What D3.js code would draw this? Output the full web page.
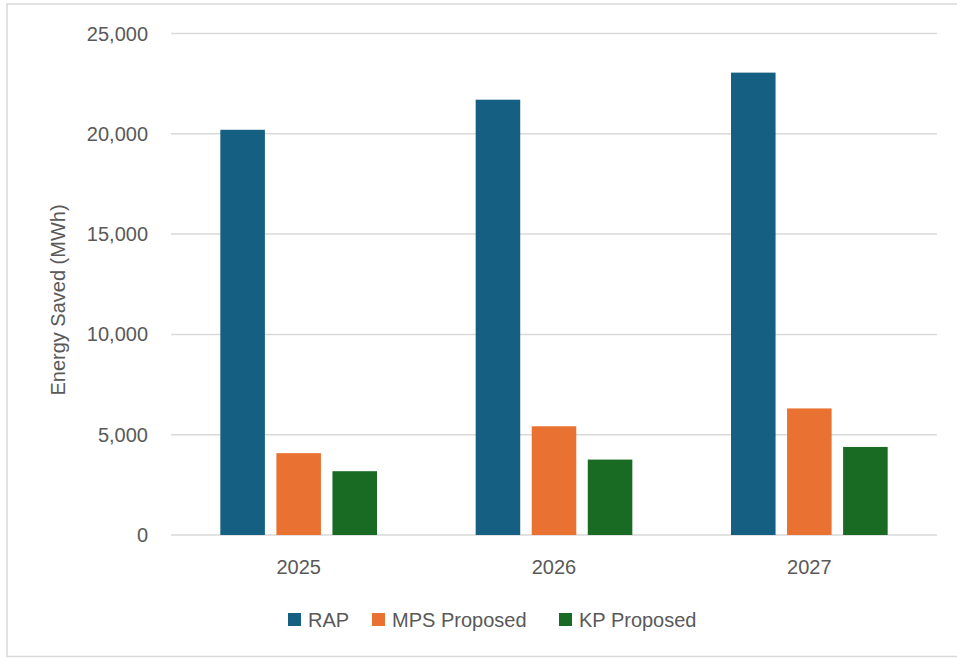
<!DOCTYPE html>
<html>
<head>
<meta charset="utf-8">
<script src="https://cdn.jsdelivr.net/npm/d3@7"></script>
<style>
  body { margin: 0; background: #fff; }
  text { font-family: "Liberation Sans", Arial, sans-serif; fill: #595959; }
</style>
</head>
<body>
<script>
var width = 957, height = 658;

// data
var years = ["2025", "2026", "2027"];
var seriesNames = ["RAP", "MPS Proposed", "KP Proposed"];
var rap = [20200, 21700, 23050];
var mps = [4080, 5420, 6310];
var kp = [3180, 3760, 4390];
var yTicks = [0, 5000, 10000, 15000, 20000, 25000];
var colors = ["#156082", "#E97132", "#196B24"];

var values = [rap, mps, kp];

var margin = {left: 171, right: 20, top: 33.5, bottom: 123};

var svg = d3.select("body").append("svg")
    .attr("width", width)
    .attr("height", height);

// chart frame
svg.append("rect")
    .attr("x", 7).attr("y", 4)
    .attr("width", width + 10).attr("height", 652.5)
    .style("fill", "white")
    .style("stroke", "#d9d9d9")
    .style("stroke-width", 1.5);

var x = d3.scaleBand()
    .domain(years)
    .range([margin.left, width - margin.right]);

var xInner = d3.scaleBand()
    .domain(seriesNames)
    .range([0, x.bandwidth()])
    .paddingInner(0.205)
    .paddingOuter(0.88);

var y = d3.scaleLinear()
    .domain([0, 25000])
    .range([height - margin.bottom, margin.top]);

// gridlines
svg.append("g")
    .selectAll("line")
    .data(yTicks)
    .enter().append("line")
    .attr("x1", margin.left)
    .attr("x2", width - margin.right)
    .attr("y1", function(d){ return y(d); })
    .attr("y2", function(d){ return y(d); })
    .style("stroke", "#d9d9d9")
    .style("stroke-width", 1.5);

// y tick labels
svg.append("g")
    .selectAll("text")
    .data(yTicks)
    .enter().append("text")
    .attr("x", 148)
    .attr("y", function(d){ return y(d); })
    .attr("dy", "0.35em")
    .attr("text-anchor", "end")
    .style("font-size", "20px")
    .text(function(d){ return d3.format(",")(d); });

// bars
seriesNames.forEach(function(name, i){
    svg.append("g")
        .selectAll("rect")
        .data(values[i])
        .enter().append("rect")
        .attr("x", function(d, j){ return x(years[j]) + xInner(name); })
        .attr("y", function(d){ return y(d); })
        .attr("width", xInner.bandwidth())
        .attr("height", function(d){ return y(0) - y(d); })
        .style("fill", colors[i]);
});

// x labels
svg.append("g")
    .selectAll("text")
    .data(years)
    .enter().append("text")
    .attr("x", function(d){ return x(d) + x.bandwidth() / 2; })
    .attr("y", 574)
    .attr("text-anchor", "middle")
    .style("font-size", "20px")
    .text(function(d){ return d; });

// y axis title
svg.append("text")
    .attr("transform", "translate(65,300) rotate(-90)")
    .attr("text-anchor", "middle")
    .style("font-size", "20px")
    .text("Energy Saved (MWh)");

// legend
var legendX = [288, 372, 559];
var legend = svg.append("g")
    .selectAll("g")
    .data(seriesNames)
    .enter().append("g")
    .attr("transform", function(d, i){ return "translate(" + legendX[i] + ",613)"; });

legend.append("rect")
    .attr("width", 13).attr("height", 13)
    .style("fill", function(d, i){ return colors[i]; });

legend.append("text")
    .attr("x", 20)
    .attr("y", 6.5)
    .attr("dy", "0.35em")
    .style("font-size", "20px")
    .text(function(d){ return d; });
</script>
</body>
</html>
